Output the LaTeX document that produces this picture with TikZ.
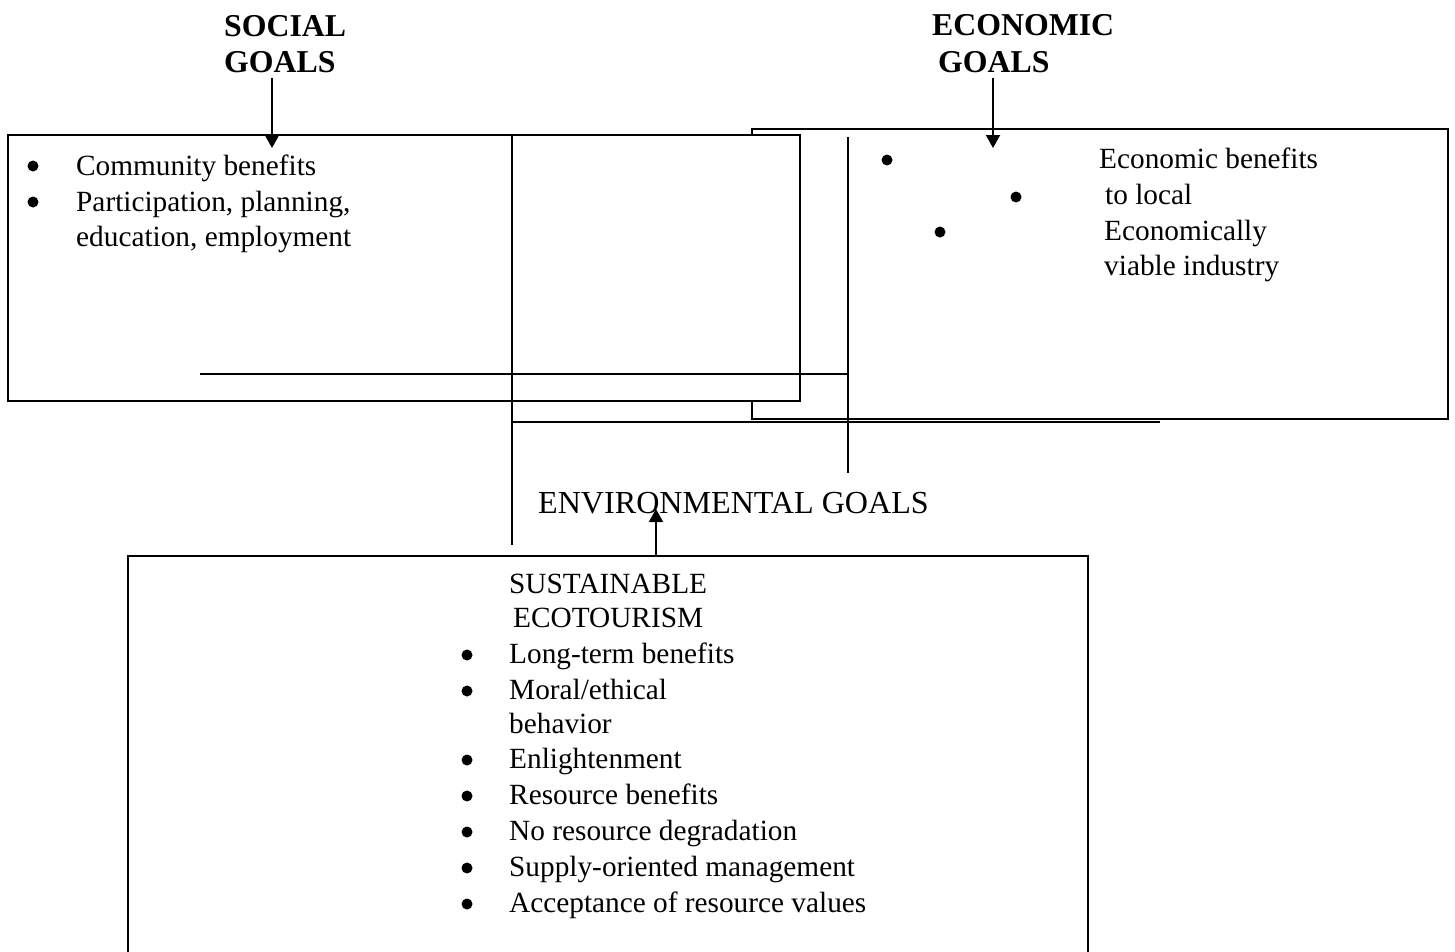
\documentclass[tikz,border=0pt]{standalone}
\usepackage{fontspec}
\setmainfont{Liberation Serif}
\usetikzlibrary{arrows.meta}
\tikzset{
  frame/.style={draw, line width=2pt, inner sep=0pt, fill=white},
  ln/.style={line width=2pt},
  arr/.style={line width=2pt, -{Triangle[width=14pt,length=13pt]}},
  txt/.style={anchor=base west, inner sep=0pt, font=\fontsize{29.3}{36}\selectfont},
  ttl/.style={anchor=base west, inner sep=0pt, font=\fontsize{31.8}{36}\selectfont\bfseries},
  env/.style={anchor=base west, inner sep=0pt, font=\fontsize{32.1}{36}\selectfont},
  bul/.style={circle, fill=black, inner sep=0pt, minimum size=11pt},
}
\begin{document}
\begin{tikzpicture}[x=1pt,y=-1pt]
\useasboundingbox (0,0) rectangle (1455,951);
% boxes
\node[frame, minimum width=696pt, minimum height=290pt] (eco) at (1100,274) {};
\node[frame, minimum width=792pt, minimum height=266pt] (soc) at (404,268) {};
\node[frame, minimum width=960pt, minimum height=420pt] (sus) at (608,766) {};
% titles
\node[ttl] (soct1) at (224,36) {SOCIAL};
\node[ttl] (soct2) at (224,72) {GOALS};
\node[ttl] (ecot1) at (932,35) {ECONOMIC};
\node[ttl] (ecot2) at (938,72) {GOALS};
\node[env] (envt) at (538,513) {ENVIRONMENTAL GOALS};
% arrows
\coordinate (socin) at (272,148);
\coordinate (ecoin) at (993,148);
\coordinate (envin) at (656,509);
\draw[arr] ([yshift=-5pt]soct2.south -| socin) -- (socin);
\draw[arr] ([yshift=-5pt]ecot2.south -| ecoin) -- (ecoin);
\draw[arr] (sus.north -| envin) -- (envin);
% free lines
\coordinate (v1a) at (512,135);
\coordinate (v1b) at (512,545);
\coordinate (v2a) at (848,137);
\coordinate (v2b) at (848,473);
\coordinate (h1a) at (200,374);
\coordinate (h2b) at (1160,422);
\draw[ln] (v1a) -- (v1b);
\draw[ln] (v2a) -- (v2b);
\draw[ln] (h1a) -- (h1a -| v2a);
\draw[ln] (h2b -| v1a) -- (h2b);
% social text
\node[bul] (sb1) at (33,166) {};
\node[bul] (sb2) at (33,202) {};
\node[txt] (s1) at (76,175) {Community benefits};
\node[txt] (s2) at (76,211) {Participation, planning,};
\node[txt] (s3) at (76,246) {education, employment};
% economic text
\node[bul] (eb1) at (887,160) {};
\node[bul] (eb2) at (1016,197) {};
\node[bul] (eb3) at (940,232) {};
\node[txt] (e1) at (1099,168) {Economic benefits};
\node[txt] (e2) at (1105,204) {to local};
\node[txt] (e3) at (1104,240) {Economically};
\node[txt] (e4) at (1104,275) {viable industry};
% sustainable text
\node[txt] (u0) at (509,593) {SUSTAINABLE};
\node[txt] (u00) at (513,627) {ECOTOURISM};
\node[txt] (u1) at (509,663) {Long-term benefits};
\node[txt] (u2) at (509,699) {Moral/ethical};
\node[txt] (u2b) at (509,733) {behavior};
\node[txt] (u3) at (509,768) {Enlightenment};
\node[txt] (u4) at (509,804) {Resource benefits};
\node[txt] (u5) at (509,840) {No resource degradation};
\node[txt] (u6) at (509,876) {Supply-oriented management};
\node[txt] (u7) at (509,912) {Acceptance of resource values};
\foreach \yy/\nm in {655/ub1,691/ub2,760/ub3,796/ub4,832/ub5,868/ub6,904/ub7}
  \node[bul] (\nm) at (467,\yy) {};
\end{tikzpicture}
\end{document}
